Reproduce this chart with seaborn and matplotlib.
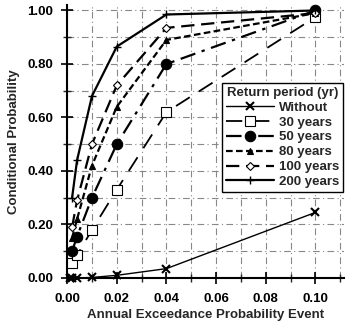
import matplotlib
matplotlib.use("Agg")
import matplotlib.pyplot as plt
import seaborn as sns
import pandas as pd
import numpy as np

sns.set_theme(style="white")
plt.rcParams['font.family'] = ['Liberation Sans', 'DejaVu Sans']
plt.rcParams['font.weight'] = 'bold'

x_vals = [0.002, 0.004, 0.01, 0.02, 0.04, 0.1]
x_without = [0.001, 0.002, 0.004, 0.01, 0.02, 0.04, 0.1]
y_without = [0.0, 0.0, 0.0, 0.002, 0.01, 0.035, 0.245]
y_30 = [0.055, 0.085, 0.18, 0.33, 0.62, 0.975]
y_50 = [0.10, 0.155, 0.30, 0.50, 0.80, 1.00]
y_80 = [0.15, 0.22, 0.42, 0.64, 0.89, 0.99]
y_100 = [0.19, 0.29, 0.50, 0.72, 0.935, 0.99]
y_200 = [0.30, 0.44, 0.68, 0.865, 0.985, 1.00]

series = [
    ("Without", x_without, y_without, dict(marker='x', ls='-', lw=1.0, ms=6, mfc='black', mew=1.5)),
    ("30 years", x_vals, y_30, dict(marker='s', ls=(0, (9, 6)), lw=1.3, ms=7.5, mfc='white', mew=0.8)),
    ("50 years", x_vals, y_50, dict(marker='o', ls=(0, (7, 3, 1.5, 3)), lw=1.6, ms=7.5, mfc='black', mew=0.8)),
    ("80 years", x_vals, y_80, dict(marker='^', ls=(0, (3, 1.5)), lw=1.6, ms=5, mfc='black', mew=0.8)),
    ("100 years", x_vals, y_100, dict(marker='D', ls=(0, (6, 3)), lw=1.6, ms=4, mfc='white', mew=0.8)),
    ("200 years", x_vals, y_200, dict(marker='+', ls='-', lw=1.6, ms=6, mfc='black', mew=1.0)),
]

fig = plt.figure(figsize=(3.46, 3.21), dpi=100)
ax = fig.add_axes([0.194, 0.134, 0.80, 0.85])

for name, xs, ys, st in series:
    df = pd.DataFrame({"x": xs, "y": ys})
    sns.lineplot(data=df, x="x", y="y", ax=ax, color='black', label=name,
                 marker=st['marker'], linestyle=st['ls'], linewidth=st['lw'],
                 markersize=st['ms'], markerfacecolor=st['mfc'],
                 markeredgecolor='black', markeredgewidth=st['mew'],
                 clip_on=False, zorder=3)

ax.set_xlim(0, 0.1115)
ax.set_ylim(0, 1.02)
ax.set_xticks(np.arange(0, 0.101, 0.02))
ax.set_xticklabels([f"{v:.2f}" for v in np.arange(0, 0.101, 0.02)])
ax.set_yticks(np.arange(0, 1.01, 0.2))
ax.set_yticklabels([f"{v:.2f}" for v in np.arange(0, 1.01, 0.2)])
ax.set_xticks(np.arange(0, 0.111, 0.01), minor=True)
ax.set_yticks(np.arange(0, 1.01, 0.1), minor=True)
ax.grid(True, which='both', color='#888888', linestyle=(0, (6, 3, 1, 3)), linewidth=0.8)
ax.tick_params(axis='both', which='major', labelsize=9.5, length=8, width=1.2,
               direction='inout', bottom=True, left=True, colors='black')
ax.tick_params(axis='x', which='major', pad=6.5)
ax.tick_params(axis='y', which='major', pad=6)
ax.tick_params(axis='both', which='minor', length=6, width=1.0, direction='inout',
               bottom=True, left=True)
for lab in ax.get_xticklabels() + ax.get_yticklabels():
    lab.set_fontweight('bold')
for s in ['top', 'right']:
    ax.spines[s].set_visible(False)
for s in ['left', 'bottom']:
    ax.spines[s].set_color('black')
    ax.spines[s].set_linewidth(1.5)

ax.set_xlabel("Annual Exceedance Probability Event", fontsize=9.5, fontweight='bold', labelpad=3)
ax.set_ylabel("Conditional Probability", fontsize=9.5, fontweight='bold', labelpad=5)

leg = ax.legend(title="Return period (yr)", loc='upper left', bbox_to_anchor=(0.56, 0.715),
                fontsize=9.5, title_fontsize=9.5, handlelength=3.6, frameon=True,
                fancybox=False, edgecolor='black', framealpha=1, borderpad=0.3,
                labelspacing=0.2, handletextpad=0.4, borderaxespad=0)
leg.get_title().set_fontweight('bold')
leg.get_frame().set_linewidth(1.0)

fig.savefig("out.png", dpi=100)
